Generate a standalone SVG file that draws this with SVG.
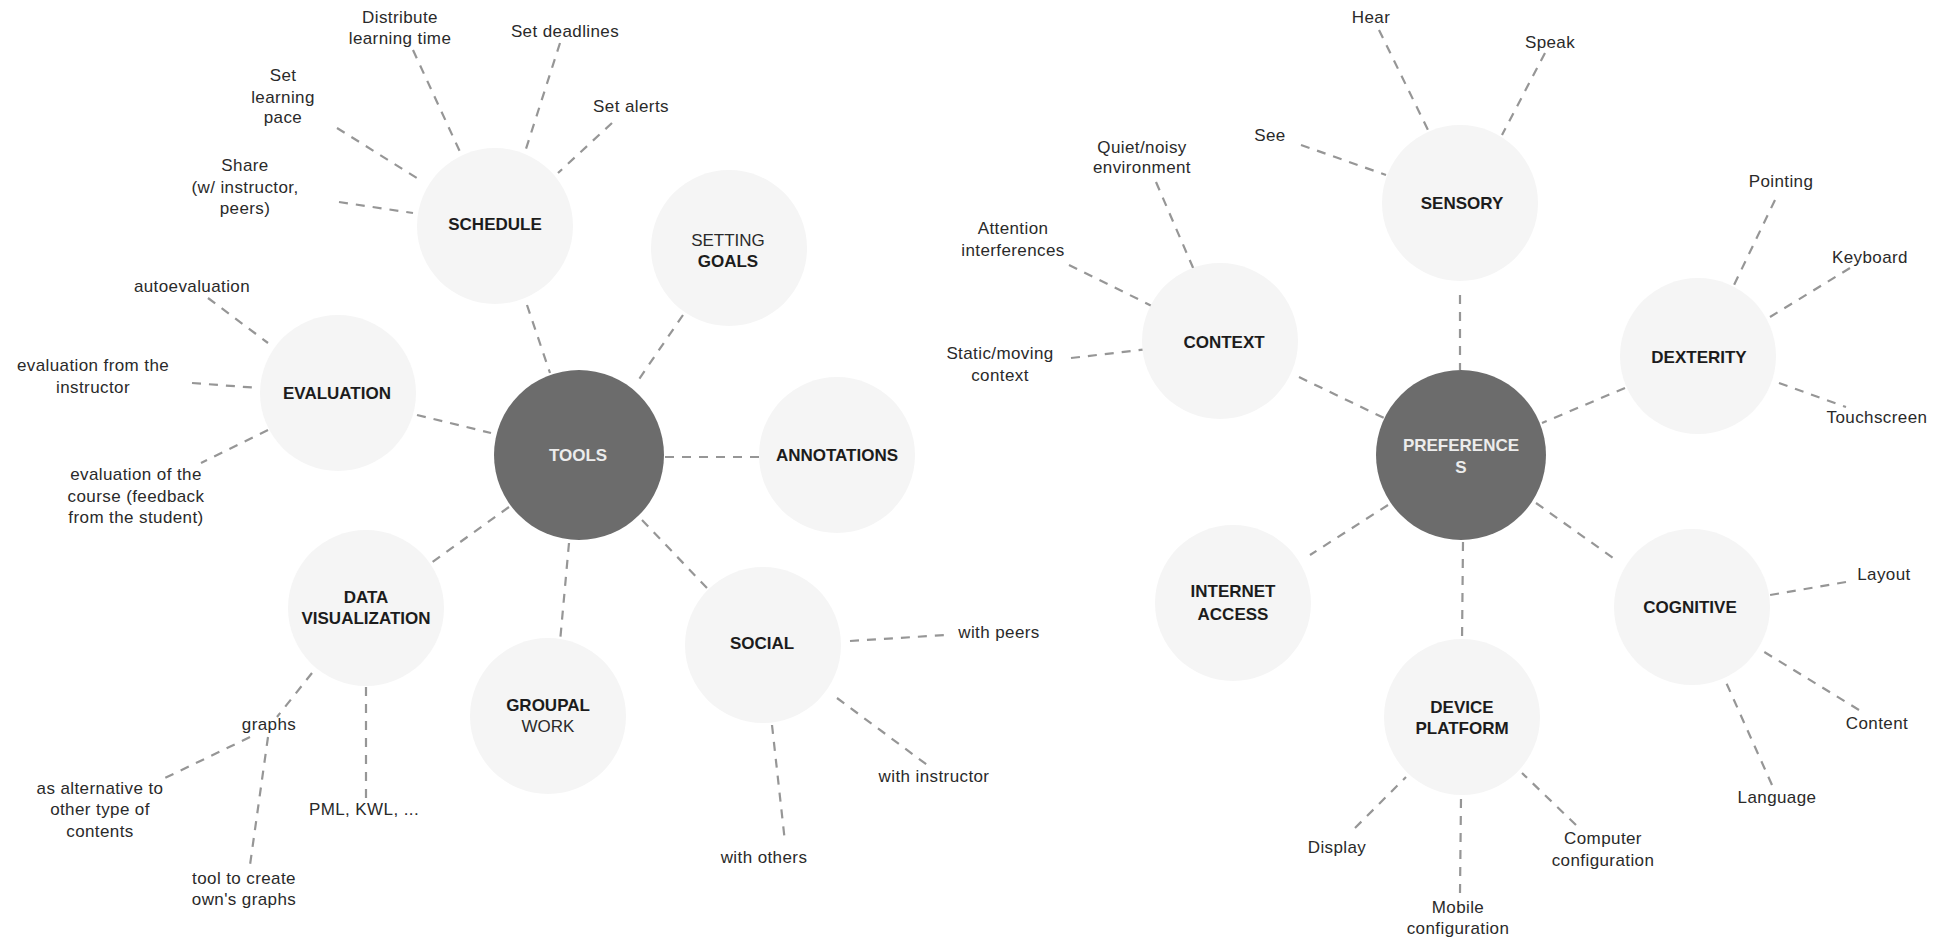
<svg xmlns="http://www.w3.org/2000/svg" width="1942" height="938" viewBox="0 0 1942 938">
<style>
text{font-family:"Liberation Sans",Arial,Helvetica,sans-serif;text-anchor:middle}
.leaf{font-size:17px;fill:#2a2a2a;letter-spacing:0.4px}
.lbl{font-size:17px;font-weight:bold;fill:#1c1c1c}
.reg{font-size:17px;font-weight:normal;fill:#2a2a2a}
.hubt{font-size:17px;font-weight:bold;fill:#ececec}
.c{fill:#f5f5f5}
.hub{fill:#6c6c6c}
.e{stroke:#969696;stroke-width:2.2;stroke-dasharray:9 8;fill:none}
</style>
<rect width="1942" height="938" fill="#ffffff"/>
<g id="connectors">
<line class="e" x1="413" y1="50" x2="461" y2="154"/>
<line class="e" x1="560" y1="43" x2="525" y2="152"/>
<line class="e" x1="612" y1="123" x2="558" y2="173"/>
<line class="e" x1="337" y1="128" x2="420" y2="180"/>
<line class="e" x1="339" y1="202" x2="413" y2="213"/>
<line class="e" x1="527" y1="305" x2="550" y2="373"/>
<line class="e" x1="683" y1="315" x2="635" y2="385"/>
<line class="e" x1="208" y1="298" x2="268" y2="343"/>
<line class="e" x1="192" y1="383" x2="259" y2="388"/>
<line class="e" x1="417" y1="415" x2="491" y2="433"/>
<line class="e" x1="268" y1="430" x2="201" y2="463"/>
<line class="e" x1="509" y1="507" x2="431" y2="563"/>
<line class="e" x1="312" y1="673" x2="277" y2="717"/>
<line class="e" x1="250" y1="737" x2="165" y2="778"/>
<line class="e" x1="268" y1="737" x2="250" y2="865"/>
<line class="e" x1="366" y1="687" x2="366" y2="798"/>
<line class="e" x1="569" y1="543" x2="560" y2="642"/>
<line class="e" x1="642" y1="520" x2="707" y2="588"/>
<line class="e" x1="665" y1="457" x2="761" y2="457"/>
<line class="e" x1="850" y1="641" x2="946" y2="635"/>
<line class="e" x1="837" y1="698" x2="930" y2="767"/>
<line class="e" x1="772" y1="725" x2="785" y2="842"/>
<line class="e" x1="1156" y1="182" x2="1194" y2="270"/>
<line class="e" x1="1069" y1="265" x2="1154" y2="307"/>
<line class="e" x1="1071" y1="358" x2="1149" y2="349"/>
<line class="e" x1="1379" y1="30" x2="1429" y2="132"/>
<line class="e" x1="1545" y1="53" x2="1502" y2="135"/>
<line class="e" x1="1301" y1="145" x2="1386" y2="175"/>
<line class="e" x1="1460" y1="295" x2="1460" y2="370"/>
<line class="e" x1="1299" y1="377" x2="1384" y2="418"/>
<line class="e" x1="1775" y1="200" x2="1734" y2="285"/>
<line class="e" x1="1850" y1="268" x2="1770" y2="317"/>
<line class="e" x1="1779" y1="383" x2="1846" y2="407"/>
<line class="e" x1="1625" y1="388" x2="1542" y2="423"/>
<line class="e" x1="1388" y1="505" x2="1310" y2="555"/>
<line class="e" x1="1463" y1="542" x2="1462" y2="642"/>
<line class="e" x1="1536" y1="503" x2="1616" y2="560"/>
<line class="e" x1="1846" y1="582" x2="1770" y2="595"/>
<line class="e" x1="1859" y1="710" x2="1761" y2="650"/>
<line class="e" x1="1772" y1="785" x2="1725" y2="680"/>
<line class="e" x1="1355" y1="828" x2="1406" y2="777"/>
<line class="e" x1="1460" y1="893" x2="1461" y2="798"/>
<line class="e" x1="1576" y1="825" x2="1522" y2="773"/>
</g>
<g id="tools"><circle class="hub" cx="579" cy="455" r="85"/><text class="hubt" x="578" y="461">TOOLS</text></g>
<g id="schedule"><circle class="c" cx="495" cy="226" r="78"/><text class="lbl" x="495" y="230">SCHEDULE</text></g>
<g id="setting-goals"><circle class="c" cx="729" cy="248" r="78"/><text class="reg" x="728" y="246">SETTING</text><text class="lbl" x="728" y="267">GOALS</text></g>
<g id="evaluation"><circle class="c" cx="338" cy="393" r="78"/><text class="lbl" x="337" y="399">EVALUATION</text></g>
<g id="annotations"><circle class="c" cx="837" cy="455" r="78"/><text class="lbl" x="837" y="461">ANNOTATIONS</text></g>
<g id="data-visualization"><circle class="c" cx="366" cy="608" r="78"/><text class="lbl" x="366" y="603">DATA</text><text class="lbl" x="366" y="624">VISUALIZATION</text></g>
<g id="groupal-work"><circle class="c" cx="548" cy="716" r="78"/><text class="lbl" x="548" y="711">GROUPAL</text><text class="reg" x="548" y="732">WORK</text></g>
<g id="social"><circle class="c" cx="763" cy="645" r="78"/><text class="lbl" x="762" y="649">SOCIAL</text></g>
<g id="preferences"><circle class="hub" cx="1461" cy="455" r="85"/><text class="hubt" x="1461" y="451">PREFERENCE</text><text class="hubt" x="1461" y="473">S</text></g>
<g id="sensory"><circle class="c" cx="1460" cy="203" r="78"/><text class="lbl" x="1462" y="209">SENSORY</text></g>
<g id="context"><circle class="c" cx="1220" cy="341" r="78"/><text class="lbl" x="1224" y="348">CONTEXT</text></g>
<g id="dexterity"><circle class="c" cx="1698" cy="356" r="78"/><text class="lbl" x="1699" y="363">DEXTERITY</text></g>
<g id="internet-access"><circle class="c" cx="1233" cy="603" r="78"/><text class="lbl" x="1233" y="597">INTERNET</text><text class="lbl" x="1233" y="620">ACCESS</text></g>
<g id="cognitive"><circle class="c" cx="1692" cy="607" r="78"/><text class="lbl" x="1690" y="613">COGNITIVE</text></g>
<g id="device-platform"><circle class="c" cx="1462" cy="717" r="78"/><text class="lbl" x="1462" y="713">DEVICE</text><text class="lbl" x="1462" y="734">PLATFORM</text></g>
<g id="leaves">
<text class="leaf" x="400" y="23">Distribute</text><text class="leaf" x="400" y="44">learning time</text>
<text class="leaf" x="565" y="37">Set deadlines</text>
<text class="leaf" x="631" y="112">Set alerts</text>
<text class="leaf" x="283" y="81">Set</text><text class="leaf" x="283" y="103">learning</text><text class="leaf" x="283" y="123">pace</text>
<text class="leaf" x="245" y="171">Share</text><text class="leaf" x="245" y="193">(w/ instructor,</text><text class="leaf" x="245" y="214">peers)</text>
<text class="leaf" x="192" y="292">autoevaluation</text>
<text class="leaf" x="93" y="371">evaluation from the</text><text class="leaf" x="93" y="393">instructor</text>
<text class="leaf" x="136" y="480">evaluation of the</text><text class="leaf" x="136" y="502">course (feedback</text><text class="leaf" x="136" y="523">from the student)</text>
<text class="leaf" x="269" y="730">graphs</text>
<text class="leaf" x="100" y="794">as alternative to</text><text class="leaf" x="100" y="815">other type of</text><text class="leaf" x="100" y="837">contents</text>
<text class="leaf" x="244" y="884">tool to create</text><text class="leaf" x="244" y="905">own's graphs</text>
<text class="leaf" x="364" y="815">PML, KWL, ...</text>
<text class="leaf" x="999" y="638">with peers</text>
<text class="leaf" x="934" y="782">with instructor</text>
<text class="leaf" x="764" y="863">with others</text>
<text class="leaf" x="1142" y="153">Quiet/noisy</text><text class="leaf" x="1142" y="173">environment</text>
<text class="leaf" x="1013" y="234">Attention</text><text class="leaf" x="1013" y="256">interferences</text>
<text class="leaf" x="1000" y="359">Static/moving</text><text class="leaf" x="1000" y="381">context</text>
<text class="leaf" x="1270" y="141">See</text>
<text class="leaf" x="1371" y="23">Hear</text>
<text class="leaf" x="1550" y="48">Speak</text>
<text class="leaf" x="1781" y="187">Pointing</text>
<text class="leaf" x="1870" y="263">Keyboard</text>
<text class="leaf" x="1877" y="423">Touchscreen</text>
<text class="leaf" x="1884" y="580">Layout</text>
<text class="leaf" x="1877" y="729">Content</text>
<text class="leaf" x="1777" y="803">Language</text>
<text class="leaf" x="1337" y="853">Display</text>
<text class="leaf" x="1458" y="913">Mobile</text><text class="leaf" x="1458" y="934">configuration</text>
<text class="leaf" x="1603" y="844">Computer</text><text class="leaf" x="1603" y="866">configuration</text>
</g>
</svg>
